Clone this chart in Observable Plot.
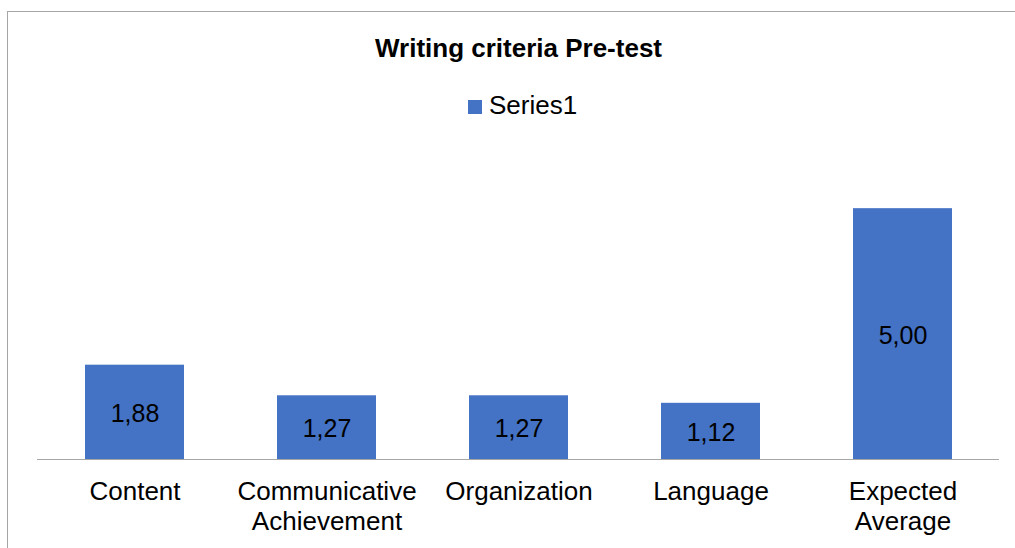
<!DOCTYPE html>
<html>
<head>
<meta charset="utf-8">
<script src="https://cdn.jsdelivr.net/npm/d3@7"></script>
<script src="https://cdn.jsdelivr.net/npm/@observablehq/plot@0.6"></script>
<style>
  html, body { margin: 0; padding: 0; background: #fff; }
  body { width: 1015px; height: 548px; overflow: hidden; font-family: "Liberation Sans", Arial, sans-serif; }
  #wrap { position: relative; width: 1015px; height: 548px; }
  #frame { position: absolute; left: 7px; top: 11px; width: 1015px; height: 600px; border-left: 1.5px solid #a6a6a6; border-top: 1.5px solid #a6a6a6; box-sizing: border-box; }
  #title { position: absolute; left: 0; width: 1037px; top: 33px; text-align: center; font-weight: bold; font-size: 26px; color: #000; }
  #legend { position: absolute; left: 468px; top: 90px; font-size: 26px; color: #000; display: flex; align-items: center; }
  #legend .sw { width: 14px; height: 14px; background: #4472C4; margin-right: 7px; margin-top: 2px; }
  #chart { position: absolute; left: 0; top: 0; }
</style>
</head>
<body>
<div id="wrap">
  <div id="frame"></div>
  <div id="chart"></div>
  <div id="title">Writing criteria Pre-test</div>
  <div id="legend"><span class="sw"></span><span id="legname">Series1</span></div>
</div>
<script>
const categories = ["Content", "Communicative Achievement", "Organization", "Language", "Expected Average"];
const tickLabels = ["Content", "Communicative\nAchievement", "Organization", "Language", "Expected\nAverage"];
const series1 = [1.88, 1.27, 1.27, 1.12, 5.00];
const seriesName = "Series1";

const data = categories.map((c, i) => ({cat: c, value: series1[i]}));
const labelOf = new Map(categories.map((c, i) => [c, tickLabels[i]]));
const fmt = v => v.toFixed(2).replace(".", ",");

const chart = Plot.plot({
  width: 1015,
  height: 548,
  marginLeft: 37,
  marginRight: 16,
  marginTop: 158,
  marginBottom: 89,
  style: {fontFamily: "'Liberation Sans', Arial, sans-serif", background: "transparent", overflow: "visible"},
  x: {domain: categories, paddingInner: 0.485, paddingOuter: 0.2425, label: null},
  y: {domain: [0, 6], axis: null},
  marks: [
    Plot.barY(data, {x: "cat", y: "value", fill: "#4472C4"}),
    Plot.ruleY([0], {stroke: "#a6a6a6", strokeWidth: 1.2}),
    Plot.text(data, {x: "cat", y: d => d.value / 2, dy: 1.5, text: d => fmt(d.value), fontSize: 25, fill: "#000"}),
    Plot.axisX({tickSize: 0, tickPadding: 19, fontSize: 26, lineHeight: 1.15, tickFormat: c => labelOf.get(c), fill: "#000"})
  ]
});
document.getElementById("chart").appendChild(chart);
document.getElementById("legname").textContent = seriesName;
</script>
</body>
</html>
